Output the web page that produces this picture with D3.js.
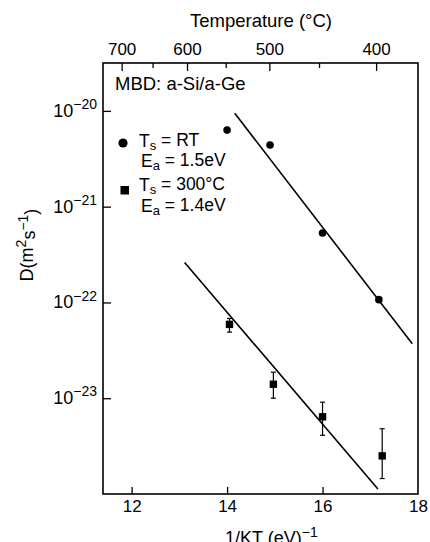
<!DOCTYPE html>
<html>
<head>
<meta charset="utf-8">
<script src="https://cdn.jsdelivr.net/npm/d3@7"></script>
<style>
  body { margin: 0; background: #fff; }
  svg { display: block; font-family: "Liberation Sans", Arial, Helvetica, sans-serif; }
  .axis path { display: none; }
  .axis line { stroke: #000; stroke-width: 1.3; }
  .axis text { fill: #000; font-size: 17px; }
</style>
</head>
<body>
<div id="chart"></div>
<script>
// values
const xTicks = [12, 14, 16, 18];
const yTicks = [1e-20, 1e-21, 1e-22, 1e-23];
const tempMajor = [700, 600, 500, 400];
const tempMinor = [650, 550, 450];

// Ts = RT (circles)
const rtX = [14.0, 14.9, 16.0, 17.18];
const rtD = [6.3e-21, 4.4e-21, 5.3e-22, 1.07e-22];
const rtFitX = [14.16, 17.88];
const rtFitD = [9.46e-21, 3.7e-23];

// Ts = 300 C (squares, with error bars)
const hotX = [14.05, 14.97, 16.0, 17.25];
const hotD = [5.9e-23, 1.4e-23, 6.4e-24, 2.5e-24];
const hotLo = [4.9e-23, 1.0e-23, 4.1e-24, 1.45e-24];
const hotHi = [6.8e-23, 1.87e-23, 9.1e-24, 4.8e-24];
const hotFitX = [13.11, 17.16];
const hotFitD = [2.61e-22, 1.13e-24];

const kB = 8.617e-5; // eV/K

let width = 430;
let height = 542;
let mLeft = 103, mRight = 418, mTop = 63, mBottom = 494;

let svg = d3.select("#chart")
  .append("svg")
  .attr("width", width)
  .attr("height", height);

let x = d3.scaleLinear().domain([11.4, 18]).range([mLeft, mRight]);
let y = d3.scaleLog().domain([1e-24, Math.pow(10, -19.5)]).range([mBottom, mTop]);
// top temperature axis is drawn a few px left in the original
let xTop = x.copy().range([mLeft - 6, mRight - 5]);
let tempToX = t => xTop(1 / (kB * (t + 273.15)));

// frame
svg.append("rect")
  .attr("x", mLeft).attr("y", mTop)
  .attr("width", mRight - mLeft).attr("height", mBottom - mTop)
  .attr("fill", "none").attr("stroke", "#000").attr("stroke-width", 1.6);

// bottom axis
let gx = svg.append("g")
  .attr("class", "axis")
  .attr("transform", "translate(0," + mBottom + ")")
  .call(d3.axisBottom(x).tickValues(xTicks).tickSizeInner(-7).tickSizeOuter(0).tickPadding(6).tickFormat(d3.format("d")));
gx.selectAll(".tick").filter(d => d === 18).select("line").remove();

// left axis with 10^n labels
let gy = svg.append("g")
  .attr("class", "axis")
  .attr("transform", "translate(" + mLeft + ",0)")
  .call(d3.axisLeft(y).tickValues(yTicks).tickSizeInner(-8).tickSizeOuter(0).tickPadding(6).tickFormat(""));
gy.selectAll(".tick text").each(function(d) {
  let t = d3.select(this);
  t.append("tspan").attr("font-size", "18px").text("10");
  t.append("tspan").attr("dy", "-0.55em").attr("font-size", "14px")
    .text("\u2212" + Math.round(-Math.log10(d)));
});

// top temperature axis
let topG = svg.append("g").attr("class", "axis");
topG.selectAll("line.major")
  .data(tempMajor)
  .enter().append("line")
  .attr("class", "major")
  .attr("x1", d => tempToX(d)).attr("x2", d => tempToX(d))
  .attr("y1", mTop).attr("y2", mTop + 8);
topG.selectAll("line.minor")
  .data(tempMinor)
  .enter().append("line")
  .attr("class", "minor")
  .attr("x1", d => tempToX(d)).attr("x2", d => tempToX(d))
  .attr("y1", mTop).attr("y2", mTop + 5);
topG.selectAll("text")
  .data(tempMajor)
  .enter().append("text")
  .attr("x", d => tempToX(d)).attr("y", mTop - 8)
  .attr("text-anchor", "middle")
  .text(d => d);

// axis titles
svg.append("text")
  .attr("x", 261).attr("y", 27)
  .attr("text-anchor", "middle")
  .attr("font-size", "18.5px")
  .text("Temperature (\u00b0C)");

let xl = svg.append("text")
  .attr("x", 225).attr("y", 544)
  .attr("font-size", "18px");
xl.append("tspan").text("1/KT (eV)");
xl.append("tspan").attr("dy", "-0.5em").attr("font-size", "14px").text("\u22121");

let yl = svg.append("text")
  .attr("transform", "translate(33,245) rotate(-90)")
  .attr("text-anchor", "middle")
  .attr("font-size", "18px");
yl.append("tspan").text("D(m");
yl.append("tspan").attr("dy", "-0.5em").attr("font-size", "14px").text("2");
yl.append("tspan").attr("dy", "0.5em").text("s");
yl.append("tspan").attr("dy", "-0.5em").attr("font-size", "14px").text("\u22121");
yl.append("tspan").attr("dy", "0.5em").text(")");

svg.append("text")
  .attr("x", 115).attr("y", 90)
  .attr("font-size", "18.5px")
  .text("MBD: a-Si/a-Ge");

// fit lines
let line = d3.line().x(d => x(d[0])).y(d => y(d[1]));
svg.append("path")
  .datum(d3.zip(rtFitX, rtFitD))
  .attr("d", line)
  .attr("fill", "none").attr("stroke", "#000").attr("stroke-width", 1.6);
svg.append("path")
  .datum(d3.zip(hotFitX, hotFitD))
  .attr("d", line)
  .attr("fill", "none").attr("stroke", "#000").attr("stroke-width", 1.6);

// RT points
svg.selectAll("circle.rt")
  .data(d3.zip(rtX, rtD))
  .enter().append("circle")
  .attr("class", "rt")
  .attr("cx", d => x(d[0])).attr("cy", d => y(d[1]))
  .attr("r", 3.8).attr("fill", "#000");

// 300C points with error bars
let hot = d3.range(hotX.length).map(i => ({ x: hotX[i], d: hotD[i], lo: hotLo[i], hi: hotHi[i] }));
let eb = svg.append("g").attr("stroke", "#000").attr("stroke-width", 1.2);
eb.selectAll("line.bar").data(hot).enter().append("line")
  .attr("class", "bar")
  .attr("x1", d => x(d.x)).attr("x2", d => x(d.x))
  .attr("y1", d => y(d.lo)).attr("y2", d => y(d.hi));
eb.selectAll("line.capHi").data(hot).enter().append("line")
  .attr("class", "capHi")
  .attr("x1", d => x(d.x) - 2.5).attr("x2", d => x(d.x) + 2.5)
  .attr("y1", d => y(d.hi)).attr("y2", d => y(d.hi));
eb.selectAll("line.capLo").data(hot).enter().append("line")
  .attr("class", "capLo")
  .attr("x1", d => x(d.x) - 2.5).attr("x2", d => x(d.x) + 2.5)
  .attr("y1", d => y(d.lo)).attr("y2", d => y(d.lo));
svg.selectAll("rect.hot")
  .data(hot)
  .enter().append("rect")
  .attr("class", "hot")
  .attr("x", d => x(d.x) - 3.7).attr("y", d => y(d.d) - 3.7)
  .attr("width", 7.4).attr("height", 7.4)
  .attr("fill", "#000");

// legend
svg.append("circle").attr("cx", 123).attr("cy", 143).attr("r", 4.6).attr("fill", "#000");
svg.append("rect").attr("x", 120.5).attr("y", 186).attr("width", 8.5).attr("height", 8.5).attr("fill", "#000");

function subLabel(xp, yp, main, sub, rest) {
  let t = svg.append("text").attr("x", xp).attr("y", yp).attr("font-size", "17.5px");
  t.append("tspan").text(main);
  t.append("tspan").attr("dy", "0.25em").attr("font-size", "13px").text(sub);
  t.append("tspan").attr("dy", "-0.25em").text(rest);
}
subLabel(139, 147, "T", "s", " = RT");
subLabel(141, 167, "E", "a", " = 1.5eV");
subLabel(139, 191, "T", "s", " = 300\u00b0C");
subLabel(141, 212, "E", "a", " = 1.4eV");
</script>
</body>
</html>
